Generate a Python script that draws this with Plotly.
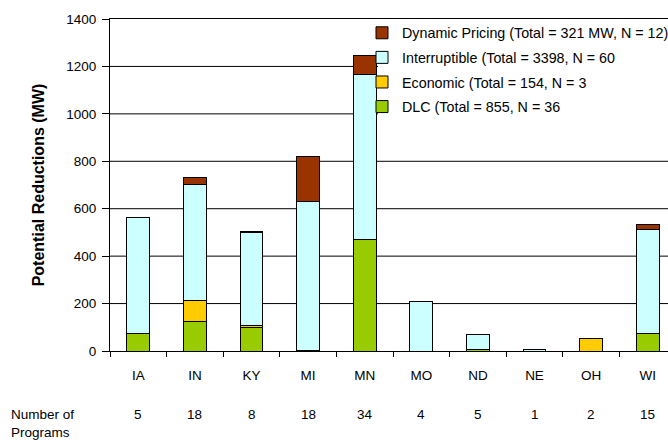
import plotly.graph_objects as go

states = ["IA", "IN", "KY", "MI", "MN", "MO", "ND", "NE", "OH", "WI"]
num_programs = [5, 18, 8, 18, 34, 4, 5, 1, 2, 15]

dlc = [75, 125, 98, 4, 470, 0, 7, 0, 0, 75]
economic = [0, 90, 10, 0, 0, 0, 0, 0, 54, 0]
interruptible = [490, 488, 390, 628, 698, 210, 61, 8, 0, 436]
dynamic = [0, 28, 4, 190, 78, 0, 0, 0, 0, 24]

y_ticks = [0, 200, 400, 600, 800, 1000, 1200, 1400]

series = [
    ("DLC (Total = 855, N = 36", dlc, "#99CC00"),
    ("Economic (Total = 154, N = 3", economic, "#FFCC00"),
    ("Interruptible (Total = 3398, N = 60", interruptible, "#CCFFFF"),
    ("Dynamic Pricing (Total = 321 MW, N = 12)", dynamic, "#993300"),
]

FONT = "Liberation Sans, Arial, sans-serif"

fig = go.Figure()
for i, (name, vals, color) in enumerate(series):
    fig.add_trace(go.Bar(
        x=states, y=vals, name=name, legendgroup=f"g{i}",
        legendrank=len(series) - i,
        marker=dict(color=color, line=dict(color="black", width=1)),
        width=0.4,
    ))

W, H = 668, 442
L, T, B = 110, 19, 91
plot_w = W - L
plot_h = H - T - B
cat_px = 56.6
x_hi = -0.5 + plot_w / cat_px

# gridlines (drawn as shapes so the legend area can be masked)
for v in y_ticks[1:-1]:
    fig.add_shape(type="line", xref="paper", yref="y", layer="below",
                  x0=0, x1=1, y0=v, y1=v, line=dict(color="black", width=1))
# white mask behind the legend
fig.add_shape(type="rect", xref="paper", yref="paper", layer="below",
              x0=(378 - L) / plot_w, x1=1.0, y0=1 - (122 - T) / plot_h, y1=0.999,
              fillcolor="white", line=dict(width=0))

for st, n in zip(states, num_programs):
    fig.add_annotation(x=st, y=-(414 - 351) / plot_h, xref="x", yref="paper", text=str(n),
                       showarrow=False, yanchor="middle", xanchor="center",
                       font=dict(size=13.5, color="black", family=FONT))

fig.add_annotation(x=(9 - L) / plot_w, y=-(405 - 351) / plot_h, xref="paper", yref="paper",
                   text="Number of<br>Programs", showarrow=False, align="left",
                   xanchor="left", yanchor="top",
                   font=dict(size=13.5, color="black", family=FONT))

fig.update_layout(
    width=W, height=H,
    barmode="stack",
    plot_bgcolor="white", paper_bgcolor="white",
    margin=dict(l=L, r=0, t=T, b=B, autoexpand=False),
    font=dict(family=FONT, size=13.5, color="black"),
    showlegend=True,
    legend=dict(x=(362 - L) / plot_w, y=1 - (17 - T) / plot_h, xanchor="left", yanchor="top",
                bgcolor="rgba(0,0,0,0)", traceorder="grouped",
                tracegroupgap=3, font=dict(size=14.3, family=FONT)),
)
fig.update_xaxes(range=[-0.5, x_hi], showline=True, linecolor="black", linewidth=1,
                 mirror=True, ticks="outside", tickson="boundaries", ticklen=5,
                 tickcolor="black", ticklabelstandoff=12, showgrid=False,
                 tickfont=dict(size=13.5, family=FONT))
fig.update_yaxes(range=[0, 1400], tickvals=y_ticks, showline=True, linecolor="black",
                 linewidth=1, ticks="outside", ticklen=7, tickcolor="black", showgrid=False,
                 zeroline=False, ticklabelstandoff=3,
                 tickfont=dict(size=13.5, family=FONT),
                 title=dict(text="<b>Potential Reductions (MW)</b>", standoff=17,
                            font=dict(size=16, family=FONT)))

fig.write_html("out.html")
